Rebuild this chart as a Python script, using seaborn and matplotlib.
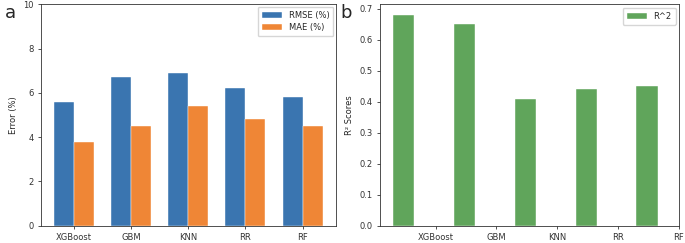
import numpy as np
import pandas as pd
import matplotlib
matplotlib.use("Agg")
import matplotlib.pyplot as plt
import seaborn as sns

models = ["XGBoost", "GBM", "KNN", "RR", "RF"]
rmse = [5.6, 6.7, 6.9, 6.2, 5.8]
mae = [3.8, 4.5, 5.4, 4.8, 4.5]
r2 = [0.68, 0.65, 0.41, 0.44, 0.45]

sns.set_style("ticks")
plt.rcParams["font.family"] = ["DejaVu Sans"]
plt.rcParams.update({
    "font.size": 6,
    "axes.linewidth": 0.6,
    "xtick.major.width": 0.6,
    "ytick.major.width": 0.6,
    "xtick.major.size": 2.5,
    "ytick.major.size": 2.5,
    "xtick.major.pad": 2.5,
    "ytick.major.pad": 2.5,
    "xtick.color": "#333333",
    "ytick.color": "#333333",
    "axes.edgecolor": "#333333",
})

blue = "#3a75b0"
orange = "#ef8636"
green = "#60a55b"

err = pd.DataFrame({
    "model": models * 2,
    "value": rmse + mae,
    "metric": ["RMSE (%)"] * len(models) + ["MAE (%)"] * len(models),
})

fig = plt.figure(figsize=(6.85, 2.43), dpi=100)
ax1 = fig.add_axes([0.0594, 0.0712, 0.4311, 0.9111])
ax2 = fig.add_axes([0.5547, 0.0712, 0.4365, 0.9111])

## a: error bars, two metrics side by side
sns.barplot(data=err, x="model", y="value", hue="metric",
            palette=[blue, orange], saturation=1, width=0.7,
            edgecolor="white", linewidth=0.3, ax=ax1)
ax1.set_xlim(-0.585, 4.585)
ax1.set_ylim(0, 10)
ax1.set_xlabel("")
ax1.set_ylabel("Error (%)", fontsize=6, labelpad=4)
ax1.legend(loc="upper right", fontsize=6, frameon=True,
           handlelength=2.4, borderpad=0.5, labelspacing=0.4,
           borderaxespad=0.3)

## b: R^2, ticks shifted to the right of the bars
x = np.arange(len(models))
w = 0.35
sns.barplot(x=x, y=r2, native_scale=True, color=green, saturation=1,
            width=w, edgecolor="white", linewidth=0.3, label="R^2", ax=ax2)
ax2.set_xlim(-0.39, 4.525)
ax2.set_xticks(x + 1.5 * w)
ax2.set_xticklabels(models)
ax2.set_ylabel("R² Scores", fontsize=6, labelpad=4)
ax2.legend(loc="upper right", fontsize=6, frameon=True,
           handlelength=2.4, borderpad=0.5, borderaxespad=0.4)

fig.text(0.007, 0.985, "a", fontsize=13, va="top")
fig.text(0.497, 0.985, "b", fontsize=13, va="top")

fig.savefig("out.png", dpi=100)
